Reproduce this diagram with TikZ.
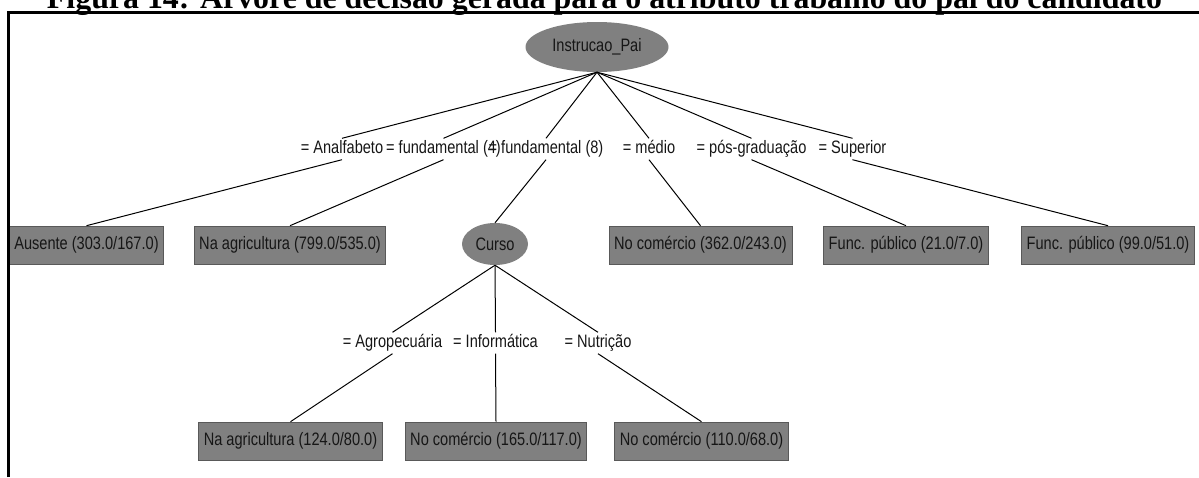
\documentclass[tikz,border=0pt]{standalone}
\usepackage{fontspec}
\setmainfont{Liberation Serif}
\newfontfamily\wekafont[FakeStretch=0.81]{Liberation Sans}
\usetikzlibrary{shapes.geometric}
\definecolor{nodegray}{HTML}{808080}
\definecolor{inkgray}{HTML}{161616}
\begin{document}
\begin{tikzpicture}[x=1pt,y=-1pt,
  every node/.style={font=\wekafont\fontsize{18}{20}\selectfont, text=inkgray},
  leaf/.style={rectangle, fill=nodegray, draw=gray!70!black, line width=0.6pt,
               minimum height=38pt, inner xsep=5pt, inner ysep=0pt},
  split/.style={ellipse, fill=nodegray, inner sep=0pt},
  edgelbl/.style={inner xsep=1pt, inner ysep=2pt, text height=13pt, text depth=4pt},
  edge/.style={line width=1pt, black},
  frame/.style={line width=3pt, black}]
\useasboundingbox (0,0) rectangle (1199,477);
\clip (0,0) rectangle (1199,477);

% caption above the frame
\node[anchor=base, inner sep=0pt, text=black,
      font=\rmfamily\bfseries\fontsize{32}{32}\selectfont] (title) at (604.5,8)
  {\resizebox{1115pt}{!}{Figura 14: Árvore de decisão gerada para o atributo trabalho do pai do candidato}};

% tree nodes
\node[split, minimum width=143pt, minimum height=50pt] (root) at (597,47) {Instrucao\_Pai};

\node[leaf] (ausente) at (86.5,245) {Ausente (303.0/167.0)};
\node[leaf] (agri1) at (290,245) {Na agricultura (799.0/535.0)};
\node[split, minimum width=66pt, minimum height=42pt] (curso) at (495,244) {Curso};
\node[leaf] (comer1) at (700.5,245) {No comércio (362.0/243.0)};
\node[leaf] (func1) at (906,245) {Func. público (21.0/7.0)};
\node[leaf] (func2) at (1108,245) {Func. público (99.0/51.0)};

\node[leaf] (agri2) at (290.5,441) {Na agricultura (124.0/80.0)};
\node[leaf] (comer2) at (496,441) {No comércio (165.0/117.0)};
\node[leaf] (comer3) at (701.5,441) {No comércio (110.0/68.0)};

% branch labels, first split (half-way between parent and child)
\node[edgelbl] (lanalf) at (342,149) {= Analfabeto};
\node[edgelbl] (lfund4) at (443.5,149) {= fundamental (4)};
\node[edgelbl] (lfund8) at (546,149) {= fundamental (8)};
\node[edgelbl] (lmedio) at (649,149) {= médio};
\node[edgelbl] (lposg) at (751.5,149) {= pós-graduação};
\node[edgelbl] (lsuper) at (852.5,149) {= Superior};

% branch labels, second split
\node[edgelbl] (lagro) at (392.5,343) {= Agropecuária};
\node[edgelbl] (linfo) at (495.5,343) {= Informática};
\node[edgelbl] (lnutr) at (598,343) {= Nutrição};

% connectors: parent -> label, label -> child
\foreach \lbl/\child in {lanalf/ausente, lfund4/agri1, lfund8/curso,
                         lmedio/comer1, lposg/func1, lsuper/func2} {
  \draw[edge] (root.south) -- (\lbl.north);
  \draw[edge] (\lbl.south) -- (\child.north);
}
\foreach \lbl/\child in {lagro/agri2, linfo/comer2, lnutr/comer3} {
  \draw[edge] (curso.south) -- (\lbl.north);
  \draw[edge] (\lbl.south) -- (\child.north);
}

% frame
\draw[frame] (8.5,477) -- (8.5,12) -- (1199,12);
\end{tikzpicture}
\end{document}
